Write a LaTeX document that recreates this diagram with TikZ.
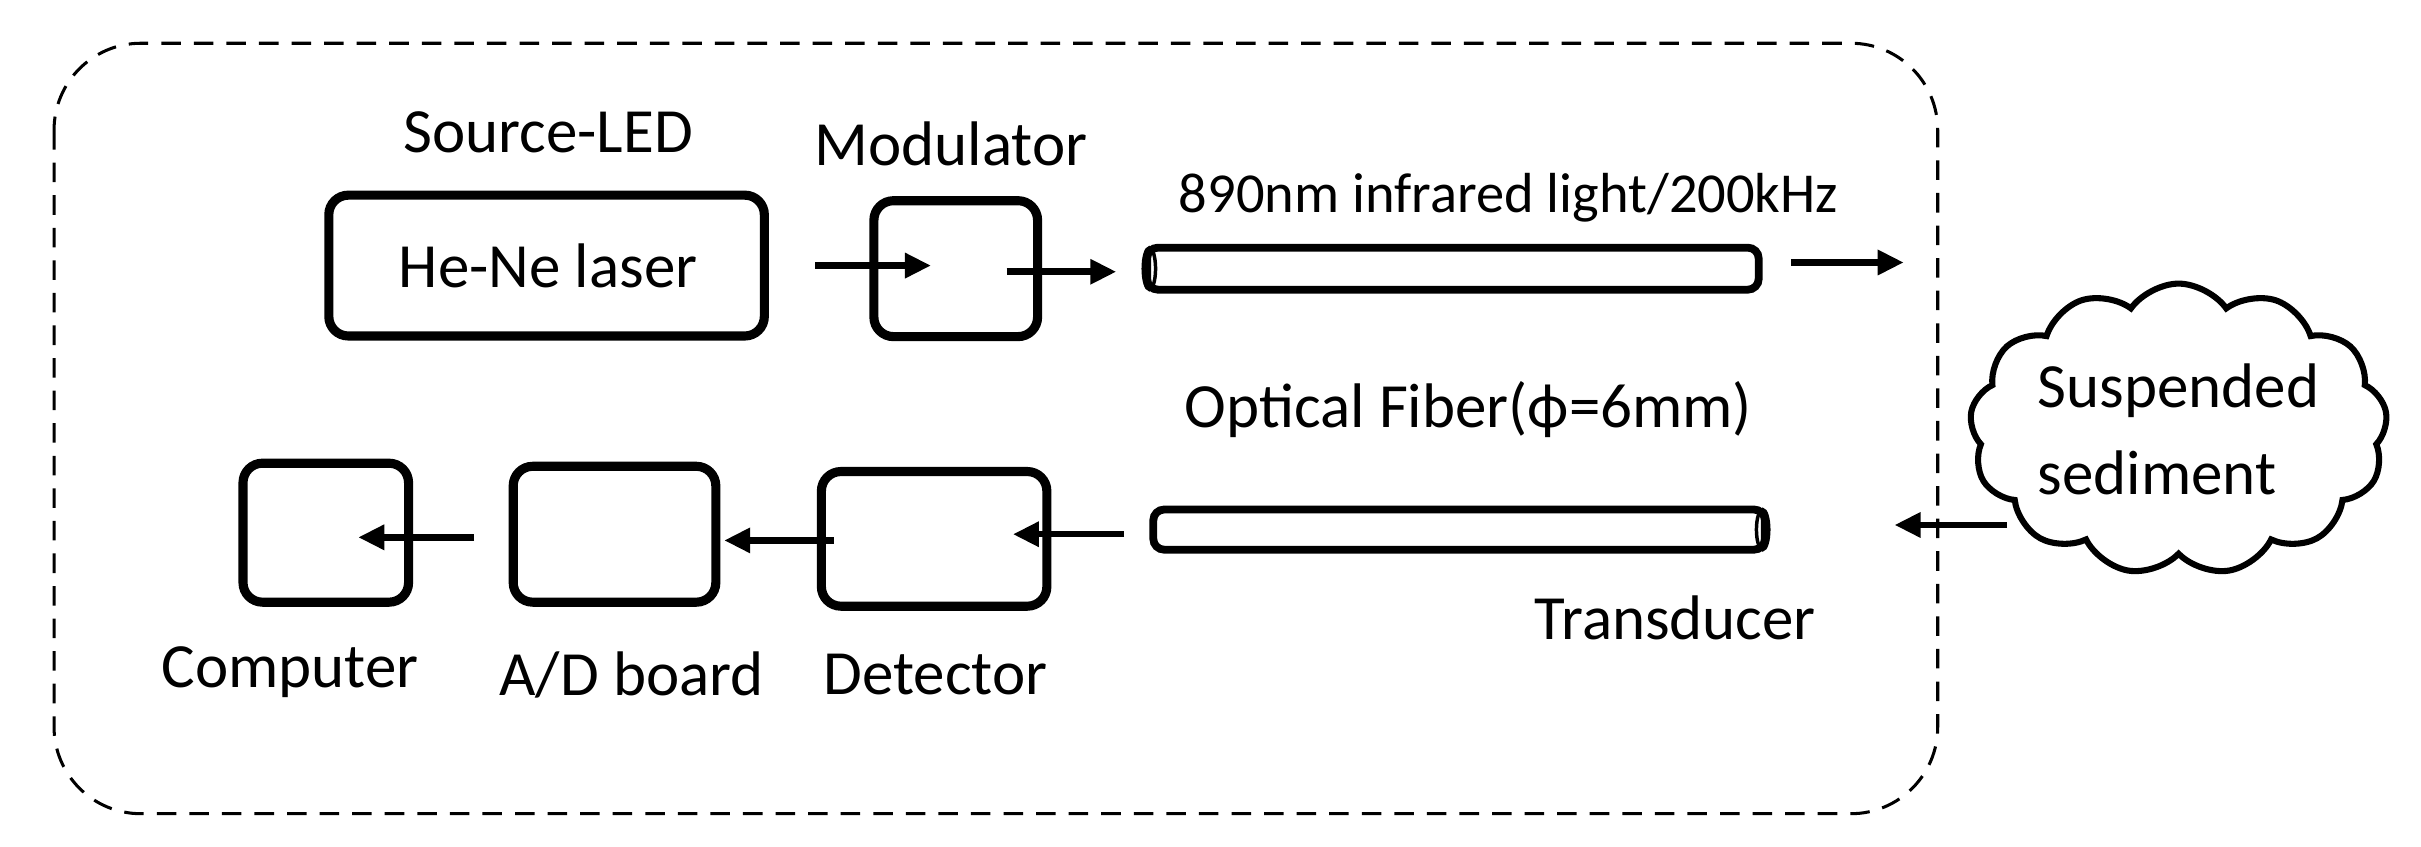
\documentclass[tikz,border=0pt]{standalone}
\usepackage{fontspec}
\setmainfont{Carlito}
\usetikzlibrary{arrows.meta,shapes.symbols}
\begin{document}
\begin{tikzpicture}[x=0.025cm,y=-0.025cm,
  box/.style={draw,line width=4.2pt,rounded corners=9pt,inner sep=0pt},
  fib/.style={draw,line width=3.6pt,rounded corners=5pt,inner sep=0pt},
  lab/.style={font=\fontsize{29}{34}\selectfont,inner sep=0pt},
  arr/.style={line width=3pt,-{Triangle[length=12pt,width=11pt]}}]
\useasboundingbox (0,0) rectangle (1568,548);
\draw[dashed,line width=1.4pt,rounded corners=40pt,dash pattern=on 9pt off 6pt] (35,28) rectangle (1255,527);
% top row
\node[box,minimum width=7.05cm,minimum height=2.28cm] (laser) at (354,172) {};
\node[lab] (lasert) at (355,172) {He-Ne laser};
\node[lab] (src) at (355,86) {Source-LED};
\node[box,minimum width=2.65cm,minimum height=2.2cm] (mod) at (619,174) {};
\node[lab] (modt) at (616,93) {Modulator};
\node[fib,minimum width=9.9cm,minimum height=0.68cm] (f1) at (941,174) {};
\draw[line width=1.6pt] (f1.west) ++(4,0) ellipse (4 and 13.5);
\node[lab,font=\fontsize{26}{30}\selectfont] (f1t) at (977,128) {890nm infrared light/200kHz};
\coordinate (a1s) at (528,172); \coordinate (a1e) at (603,172);
\coordinate (a2s) at (652,176); \coordinate (a2e) at (723,176);
\coordinate (a3s) at (1160,170); \coordinate (a3e) at (1233,170);
\draw[arr] (a1s) -- (a1e);
\draw[arr] (a2s) -- (a2e);
\draw[arr] (a3s) -- (a3e);
% cloud
\node[cloud,draw,line width=2.8pt,cloud puffs=13,cloud puff arc=110,aspect=1.6,minimum width=6.4cm,minimum height=3.9cm,inner sep=0pt,align=left,font=\fontsize{29}{40}\selectfont] (cl) at (1411,278) {Suspended\\sediment};
% middle label
\node[lab] (f2t) at (951,265) {Optical Fiber(ϕ=6mm)};
% bottom row
\node[fib,minimum width=9.9cm,minimum height=0.65cm] (f2) at (945,343) {};
\draw[line width=1.6pt] (f2.east) ++(-4,0) ellipse (4 and 13);
\node[lab] (trt) at (1085,400) {Transducer};
\node[box,minimum width=3.65cm,minimum height=2.18cm] (det) at (605,349) {};
\node[lab] (dett) at (606,437) {Detector};
\node[box,minimum width=3.28cm,minimum height=2.2cm] (ad) at (398,346) {};
\node[lab] (adt) at (409,437) {A/D board};
\node[box,minimum width=2.68cm,minimum height=2.25cm] (comp) at (211,345) {};
\node[lab] (compt) at (188,435) {Computer};
\coordinate (b1s) at (1300,340); \coordinate (b1e) at (1227,340);
\coordinate (b2s) at (728,346); \coordinate (b2e) at (656,346);
\coordinate (b3s) at (540,350); \coordinate (b3e) at (469,350);
\coordinate (b4s) at (307,348); \coordinate (b4e) at (232,348);
\draw[arr] (b1s) -- (b1e);
\draw[arr] (b2s) -- (b2e);
\draw[arr] (b3s) -- (b3e);
\draw[arr] (b4s) -- (b4e);
\end{tikzpicture}
\end{document}
